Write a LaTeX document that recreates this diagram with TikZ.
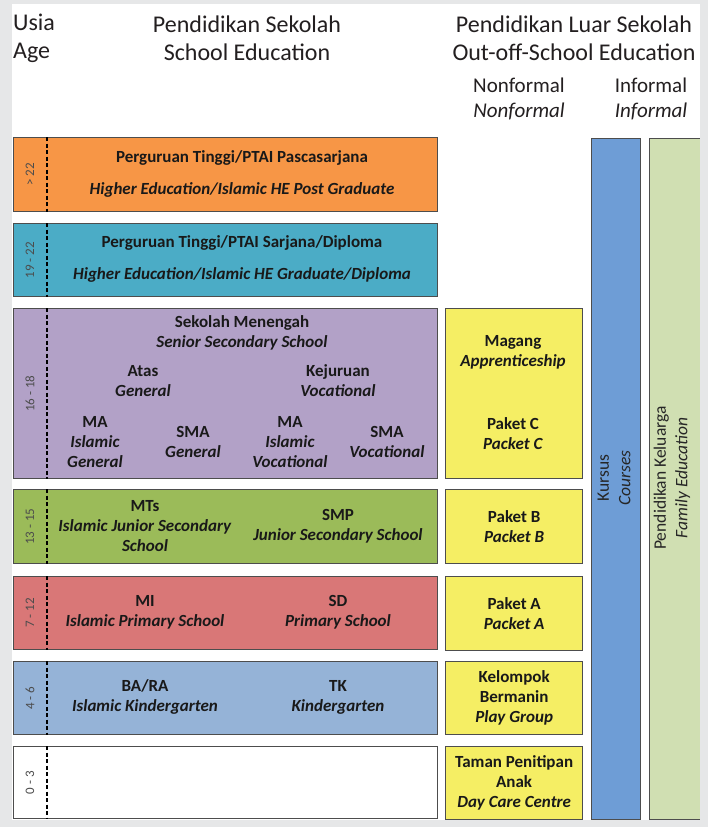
\documentclass[tikz,border=0pt]{standalone}
\usepackage{fontspec}
\setmainfont{Carlito}
\usetikzlibrary{positioning}

\definecolor{bgGray}{HTML}{E6E7E8}
\definecolor{edgeGray}{HTML}{4D4D4D}
\definecolor{inkGray}{HTML}{231F20}
\definecolor{orangeBand}{HTML}{F79646}
\definecolor{aquaBand}{HTML}{4BACC6}
\definecolor{purpleBand}{HTML}{B2A1C7}
\definecolor{greenBand}{HTML}{9BBB59}
\definecolor{redBand}{HTML}{D97777}
\definecolor{blueBand}{HTML}{95B3D7}
\definecolor{yellowBox}{HTML}{F5EE64}
\definecolor{kursusBlue}{HTML}{6E9DD6}
\definecolor{familyGreen}{HTML}{D0DFB2}

\begin{document}
\begin{tikzpicture}[x=1pt, y=-1pt,
        band/.style={draw=edgeGray, line width=1.3pt, anchor=north west, minimum width=424pt, inner sep=0pt},
        nfbox/.style={draw=edgeGray, line width=1.3pt, fill=yellowBox, anchor=north west, minimum width=137pt, inner sep=0pt},
        bar/.style={draw=edgeGray, line width=1.3pt, anchor=north west, minimum height=681pt, inner sep=0pt},
        agesep/.style={line width=1.4pt, dash pattern=on 4pt off 2.5pt},
        agelbl/.style={rotate=90, inner sep=0pt, text=black!70, font=\fontsize{13}{13}\selectfont},
        lbl/.style={align=center, inner sep=0pt, text=black!90, font=\bfseries\fontsize{17}{20}\selectfont},
        hdr/.style={align=center, inner sep=0pt, text=inkGray, font=\fontsize{24}{28}\selectfont},
        subhdr/.style={align=center, inner sep=0pt, text=inkGray, font=\fontsize{21}{25}\selectfont},
        bartext/.style={rotate=90, align=center, inner sep=0pt, text=black!85, font=\fontsize{17.5}{21.5}\selectfont}]
        \useasboundingbox (0,0) rectangle (708,827);
        % Background
        \fill[bgGray] (0,0) rectangle (708,827);
        \fill[white] (12,4) rectangle (700,820);

        % Headers
        \node[hdr, align=left, anchor=west] (usia) at (13,38) {Usia\\Age};
        \node[hdr] (sekolah) at (247,38) {Pendidikan Sekolah\\School Education};
        \node[hdr] (luar) at (574,38) {Pendidikan Luar Sekolah\\Out-off-School Education};
        \node[subhdr] (nonformal) at (519,99) {Nonformal\\\textit{Nonformal}};
        \node[subhdr] (informal) at (651,99) {Informal\\\textit{Informal}};

        % School education bands
        \node[band, fill=orangeBand, minimum height=74pt] (pasca) at (13,137) {};
        \node[band, fill=aquaBand, minimum height=73pt] (sarjana) at (13,223) {};
        \node[band, fill=purpleBand, minimum height=170pt] (menengah) at (13,308) {};
        \node[band, fill=greenBand, minimum height=74pt] (smp) at (13,489) {};
        \node[band, fill=redBand, minimum height=73pt] (sd) at (13,576) {};
        \node[band, fill=blueBand, minimum height=73pt] (tk) at (13,661) {};
        \node[band, fill=white, minimum height=72pt] (pra) at (13,746) {};

        % Age column
        \foreach \b in {pasca,sarjana,menengah,smp,sd,tk,pra}
            \draw[agesep] ([xshift=34pt]\b.north west) -- ([xshift=34pt]\b.south west);
        \node[agelbl] (agePasca) at ([xshift=17pt]pasca.west) {> 22};
        \node[agelbl] (ageSarjana) at ([xshift=17pt]sarjana.west) {19 - 22};
        \node[agelbl] (ageMenengah) at ([xshift=17pt]menengah.west) {16 - 18};
        \node[agelbl] (ageSmp) at ([xshift=17pt]smp.west) {13 - 15};
        \node[agelbl] (ageSd) at ([xshift=17pt]sd.west) {7 - 12};
        \node[agelbl] (ageTk) at ([xshift=17pt]tk.west) {4 - 6};
        \node[agelbl] (agePra) at ([xshift=17pt]pra.west) {0 - 3};

        % Higher education
        \node[lbl] (pascaId) at (242,158) {Perguruan Tinggi/PTAI Pascasarjana};
        \node[lbl] (pascaEn) at (242,190) {\textit{Higher Education/Islamic HE Post Graduate}};
        \node[lbl] (sarjanaId) at (242,243) {Perguruan Tinggi/PTAI Sarjana/Diploma};
        \node[lbl] (sarjanaEn) at (242,275) {\textit{Higher Education/Islamic HE Graduate/Diploma}};

        % Senior secondary
        \node[lbl] (smTitle) at (242,333) {Sekolah Menengah\\\textit{Senior Secondary School}};
        \node[lbl] (atas) at (143,381) {Atas\\\textit{General}};
        \node[lbl] (kejuruan) at (338,381) {Kejuruan\\\textit{Vocational}};
        \node[lbl] (maGen) at (95,442) {MA\\\textit{Islamic}\\\textit{General}};
        \node[lbl] (smaGen) at (193,442) {SMA\\\textit{General}};
        \node[lbl] (maVoc) at (290,442) {MA\\\textit{Islamic}\\\textit{Vocational}};
        \node[lbl] (smaVoc) at (387,442) {SMA\\\textit{Vocational}};

        % Junior secondary, primary, kindergarten
        \node[lbl] (mts) at (145,526) {MTs\\\textit{Islamic Junior Secondary}\\\textit{School}};
        \node[lbl] (smpTx) at (338,526) {SMP\\\textit{Junior Secondary School}};
        \node[lbl] (mi) at (145,612) {MI\\\textit{Islamic Primary School}};
        \node[lbl] (sdTx) at (338,612) {SD\\\textit{Primary School}};
        \node[lbl] (bara) at (145,697) {BA/RA\\\textit{Islamic Kindergarten}};
        \node[lbl] (tkTx) at (338,697) {TK\\\textit{Kindergarten}};

        % Nonformal boxes
        \node[nfbox, minimum height=170pt] (magang) at (445,308) {};
        \node[nfbox, minimum height=74pt] (paketB) at (445,489) {};
        \node[nfbox, minimum height=74pt] (paketA) at (445,576) {};
        \node[nfbox, minimum height=73pt] (kelompok) at (445,661) {};
        \node[nfbox, minimum height=73pt] (taman) at (445,746) {};
        \node[lbl] (magangTx) at (513,352) {Magang\\\textit{Apprenticeship}};
        \node[lbl] (paketCTx) at (513,434) {Paket C\\\textit{Packet C}};
        \node[lbl] (paketBTx) at (paketB.center) {Paket B\\\textit{Packet B}};
        \node[lbl] (paketATx) at (paketA.center) {Paket A\\\textit{Packet A}};
        \node[lbl] (kelompokTx) at (kelompok.center) {Kelompok\\Bermanin\\\textit{Play Group}};
        \node[lbl] (tamanTx) at (taman.center) {Taman Penitipan\\Anak\\\textit{Day Care Centre}};

        % Courses and family education
        \node[bar, fill=kursusBlue, minimum width=49pt] (kursus) at (591,138) {};
        \node[bar, fill=familyGreen, minimum width=63pt] (keluarga) at (649,138) {};
        \node[bartext] (kursusTx) at (614,478) {Kursus\\\textit{Courses}};
        \node[bartext] (keluargaTx) at (672,478) {Pendidikan Keluarga\\\textit{Family Education}};
        \fill[bgGray] (700,0) rectangle (708,827);
    \end{tikzpicture}
\end{document}
